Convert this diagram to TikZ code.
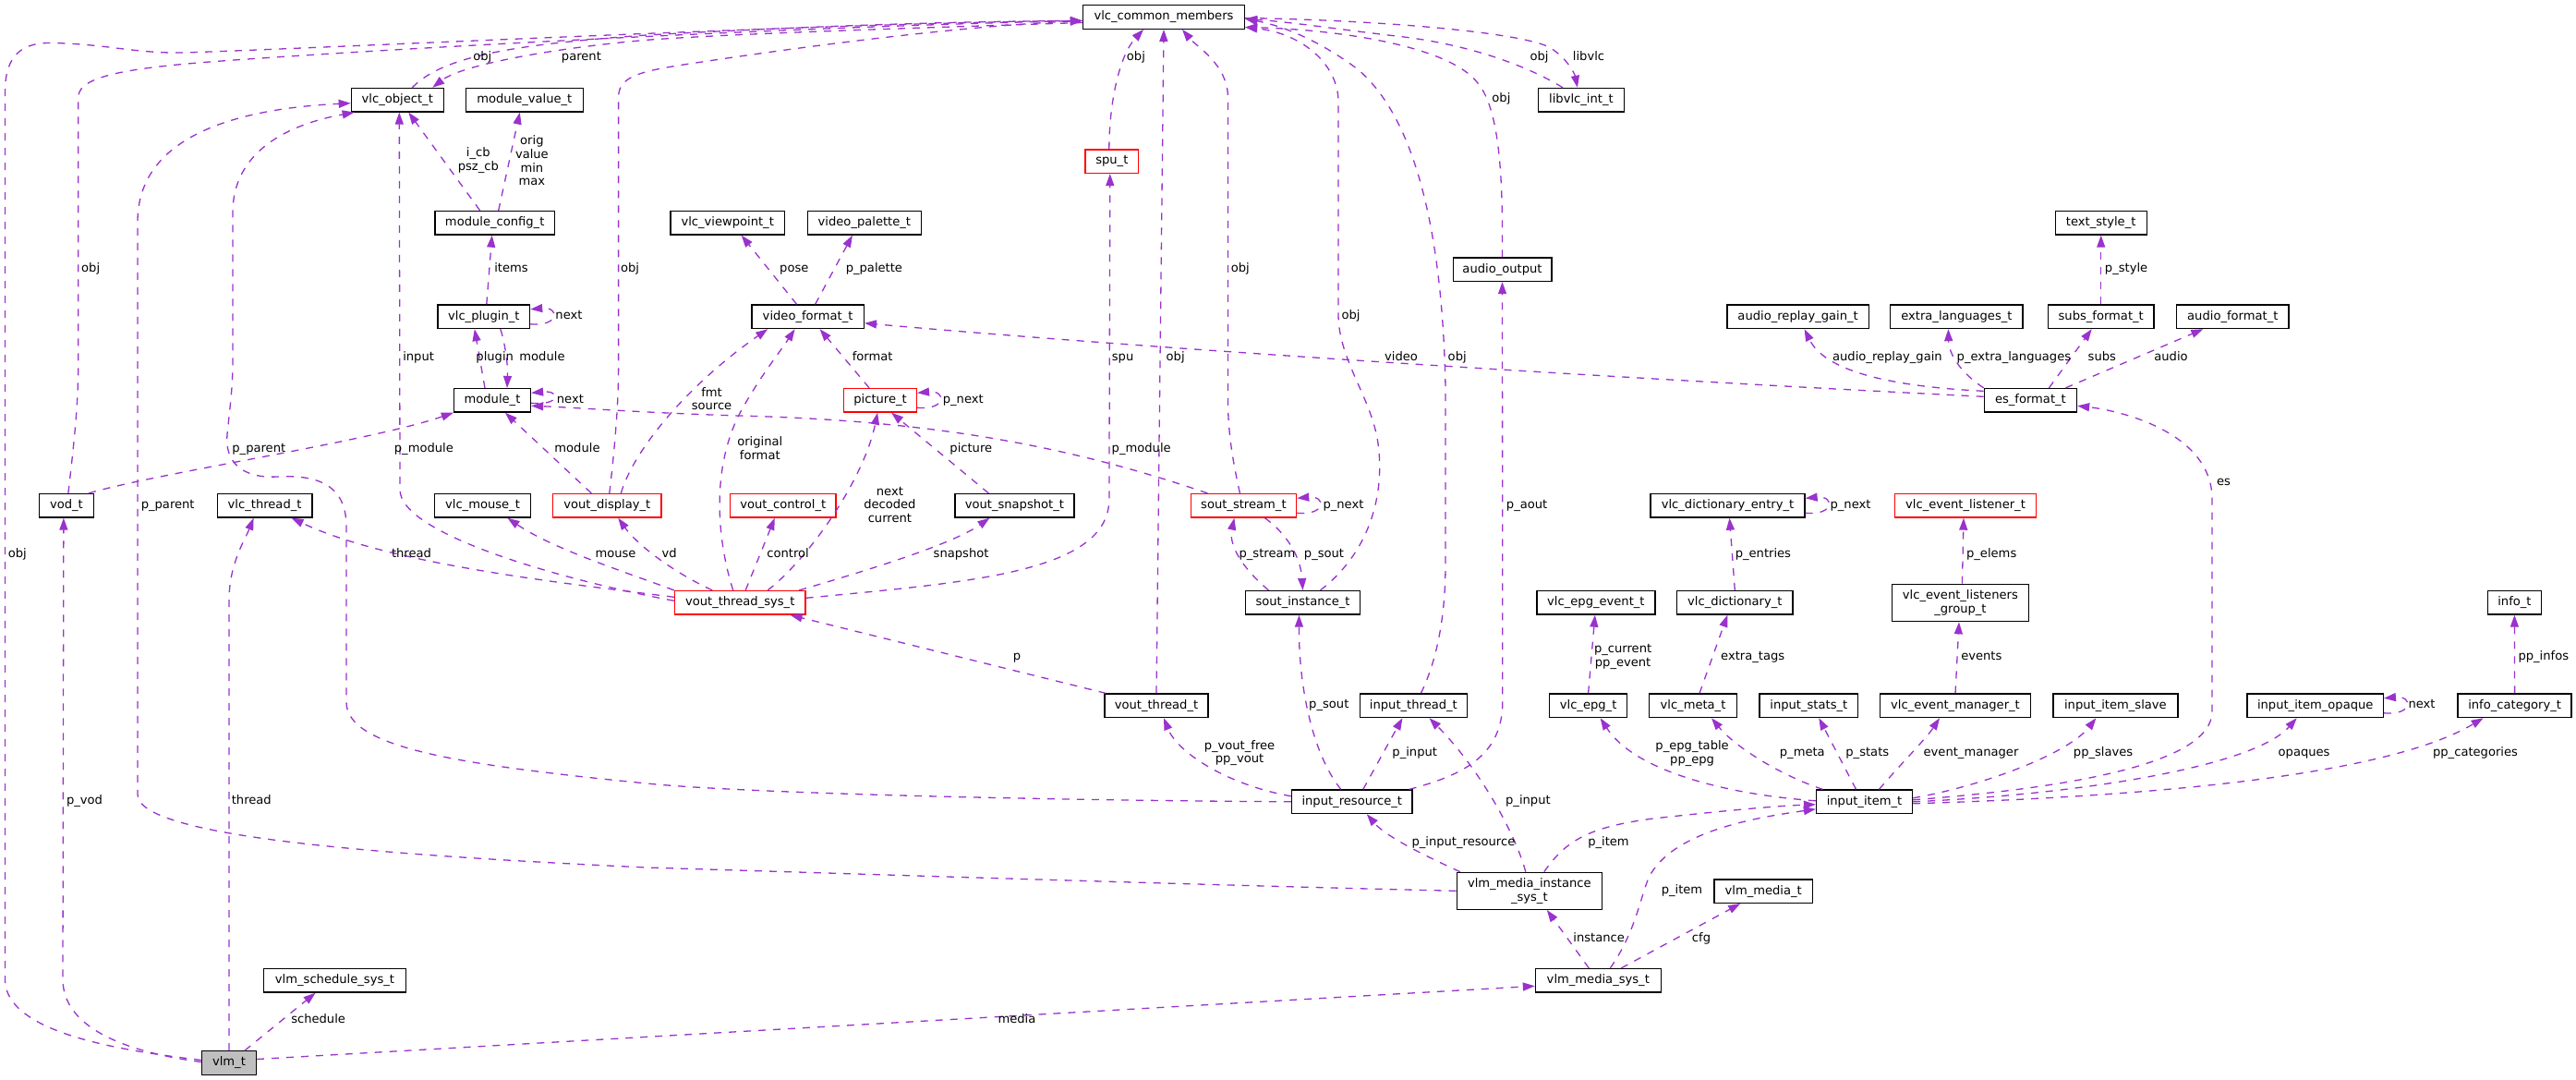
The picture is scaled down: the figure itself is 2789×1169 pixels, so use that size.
\documentclass[tikz,border=0pt]{standalone}
\usepackage{fontspec}
\setmainfont{DejaVu Sans}
\usetikzlibrary{arrows.meta}
\definecolor{edgec}{HTML}{9A32CD}
\definecolor{greyfill}{HTML}{BFBFBF}
\newcommand\dvf{\fontsize{13.1pt}{14.6pt}\selectfont}
\begin{document}
\begin{tikzpicture}[x=1pt,y=-1pt,
  box/.style={draw=black, line width=1.3pt, fill=white, minimum height=25.5pt, inner sep=0pt, font=\dvf, align=center},
  rbox/.style={box, draw=red},
  lbl/.style={font=\dvf, inner sep=0pt, text height=9.6pt, text depth=2.6pt},
  mlbl/.style={font=\dvf, inner sep=0pt, align=center},
  e/.style={draw=edgec, line width=1.3pt, dash pattern=on 8pt off 8pt, -{Triangle[length=13pt,width=9pt]}}
]
\fill[white] (0,0) rectangle (2789,1169);
\useasboundingbox (0,0) rectangle (2789,1169);

% ---------- nodes ----------
\node[box, minimum width=175pt] (vcm) at (1260,18.5) {vlc\_common\_members};
\node[box, minimum width=100pt] (vobj) at (430.3,108.2) {vlc\_object\_t};
\node[box, minimum width=127pt] (mvt) at (567.8,108.2) {module\_value\_t};
\node[box, minimum width=93pt] (libvlc) at (1711.9,108.2) {libvlc\_int\_t};
\node[rbox, minimum width=57.6pt] (spu) at (1203.8,174.7) {spu\_t};
\node[box, minimum width=129.5pt] (mct) at (535.7,241.3) {module\_config\_t};
\node[box, minimum width=123.6pt] (vvp) at (787.7,241.3) {vlc\_viewpoint\_t};
\node[box, minimum width=122.8pt] (vpal) at (935.9,241.3) {video\_palette\_t};
\node[box, minimum width=99pt] (tst) at (2274.7,241.3) {text\_style\_t};
\node[box, minimum width=106.7pt] (aout) at (1626.5,291.8) {audio\_output};
\node[box, minimum width=99.6pt] (plug) at (523.8,342.8) {vlc\_plugin\_t};
\node[box, minimum width=121.5pt] (vfmt) at (874.6,342.8) {video\_format\_t};
\node[box, minimum width=153.2pt] (argt) at (1946.6,342.8) {audio\_replay\_gain\_t};
\node[box, minimum width=143.2pt] (elt) at (2118.4,342.8) {extra\_languages\_t};
\node[box, minimum width=114.7pt] (sft) at (2274.7,342.8) {subs\_format\_t};
\node[box, minimum width=121.3pt] (aft) at (2417.3,342.8) {audio\_format\_t};
\node[box, minimum width=83pt] (modt) at (533,433.3) {module\_t};
\node[rbox, minimum width=78.6pt] (pict) at (953.1,433.3) {picture\_t};
\node[box, minimum width=100.2pt] (esf) at (2198.4,433.3) {es\_format\_t};
\node[box, minimum width=58.9pt] (vod) at (71.9,547.3) {vod\_t};
\node[box, minimum width=102.6pt] (vth) at (286.6,547.3) {vlc\_thread\_t};
\node[box, minimum width=104pt] (vmouse) at (522.5,547.3) {vlc\_mouse\_t};
\node[rbox, minimum width=117.4pt] (vdisp) at (657.3,547.3) {vout\_display\_t};
\node[rbox, minimum width=114.3pt] (vctl) at (847.8,547.3) {vout\_control\_t};
\node[box, minimum width=129pt] (vsnap) at (1098.4,547.3) {vout\_snapshot\_t};
\node[rbox, minimum width=114.4pt] (sst) at (1346.4,547.3) {sout\_stream\_t};
\node[box, minimum width=167pt] (vde) at (1870.5,547.3) {vlc\_dictionary\_entry\_t};
\node[rbox, minimum width=153.3pt] (vel) at (2128,547.3) {vlc\_event\_listener\_t};
\node[rbox, minimum width=141.5pt] (vts) at (801.2,652.3) {vout\_thread\_sys\_t};
\node[box, minimum width=123.7pt] (sinst) at (1410.5,652.3) {sout\_instance\_t};
\node[box, minimum width=128.1pt] (vee) at (1727.9,652.3) {vlc\_epg\_event\_t};
\node[box, minimum width=125.4pt] (vdict) at (1878.3,652.3) {vlc\_dictionary\_t};
\node[box, minimum width=147.6pt, minimum height=40.4pt] (velg) at (2122.4,652.5) {vlc\_event\_listeners\\\_group\_t};
\node[box, minimum width=58.4pt] (infot) at (2722.4,652.3) {info\_t};
\node[box, minimum width=112pt] (vthr) at (1252,763.8) {vout\_thread\_t};
\node[box, minimum width=116.1pt] (ithr) at (1530.4,763.8) {input\_thread\_t};
\node[box, minimum width=83.9pt] (epg) at (1719.6,763.8) {vlc\_epg\_t};
\node[box, minimum width=94.6pt] (meta) at (1833,763.8) {vlc\_meta\_t};
\node[box, minimum width=106.7pt] (istat) at (1958.3,763.8) {input\_stats\_t};
\node[box, minimum width=162.7pt] (vem) at (2117,763.8) {vlc\_event\_manager\_t};
\node[box, minimum width=134.9pt] (islave) at (2290.4,763.8) {input\_item\_slave};
\node[box, minimum width=147.2pt] (iopq) at (2506.7,763.8) {input\_item\_opaque};
\node[box, minimum width=123pt] (icat) at (2722.6,763.8) {info\_category\_t};
\node[box, minimum width=130.4pt] (ires) at (1463.8,867.8) {input\_resource\_t};
\node[box, minimum width=104pt] (iitem) at (2018.5,867.8) {input\_item\_t};
\node[box, minimum width=157.2pt, minimum height=40pt] (vmis) at (1655.8,964.3) {vlm\_media\_instance\\\_sys\_t};
\node[box, minimum width=106.7pt] (vmt) at (1909.2,964.7) {vlm\_media\_t};
\node[box, minimum width=153.6pt] (vsched) at (362.5,1061.3) {vlm\_schedule\_sys\_t};
\node[box, minimum width=135.7pt] (vms) at (1730.3,1061.3) {vlm\_media\_sys\_t};
\node[box, fill=greyfill, minimum width=58.5pt] (vlm) at (248,1150.5) {vlm\_t};

% ---------- edges ----------
% into vlc_common_members (west)
\draw[e] ([xshift=16pt]vobj.north) .. controls (480,60) and (560,48) .. (700,38) .. controls (900,27) and (1050,23) .. ([yshift=-4pt]vcm.west);
\draw[e] ([yshift=-6pt]vcm.west) .. controls (1000,30) and (800,36) .. (700,43.3) .. controls (600,52) and (500,70) .. ([xshift=38pt]vobj.north);
\draw[e] ([yshift=3pt]vlm.west) .. controls (140,1138) and (5.4,1120) .. (5.4,1060) -- (5.4,100) .. controls (5.4,45) and (40,45) .. (70,47) .. controls (120,49) and (150,58) .. (200,57) .. controls (400,50) and (900,25) .. ([yshift=-4pt]vcm.west);
\draw[e] ([xshift=2pt]vod.north) .. controls (80,480) and (84.8,440) .. (84.8,390) -- (84.8,105) .. controls (84.8,80) and (150,72) .. (268,64) .. controls (500,48) and (900,28) .. ([yshift=-4pt]vcm.west);
\draw[e] ([xshift=2.5pt]vdisp.north) .. controls (665,490) and (669.6,440) .. (669.6,400) -- (669.6,105) .. controls (669.6,80) and (700,76) .. (760,67) .. controls (900,46) and (1050,28) .. ([yshift=-4pt]vcm.west);
% into vlc_common_members (east)
\draw[e] ([xshift=-20pt]libvlc.north) .. controls (1660,75) and (1600,50) .. (1520,40) .. controls (1450,32) and (1400,24) .. ([yshift=-2pt]vcm.east);
\draw[e] ([yshift=-1pt]vcm.east) .. controls (1500,22) and (1640,35) .. (1675,50) .. controls (1695,60) and (1705,80) .. ([xshift=-4pt]libvlc.north);
\draw[e] (aout.north) .. controls (1627,200) and (1625,120) .. (1600,90) .. controls (1570,50) and (1450,32) .. ([yshift=-11pt]vcm.east);
\draw[e] ([xshift=8pt]ithr.north) .. controls (1558,710) and (1565,660) .. (1565,610) -- (1565,420) .. controls (1562,260) and (1535,130) .. (1470,75) .. controls (1430,45) and (1390,28) .. ([yshift=-2pt]vcm.east);
\draw[e] ([xshift=19pt]sinst.north) .. controls (1480,600) and (1500,540) .. (1492,480) .. controls (1485,430) and (1449,390) .. (1449,340) -- (1449,110) .. controls (1449,70) and (1410,36) .. ([yshift=-11pt]vcm.east);
% into vlc_common_members (south)
\draw[e] (vthr.north) -- (vcm.south);
\draw[e] ([xshift=-4pt]sst.north) .. controls (1335,500) and (1329.4,470) .. (1329.4,430) -- (1329.4,105) .. controls (1329.4,70) and (1295,50) .. ([xshift=20pt]vcm.south);
\draw[e] ([xshift=-3pt]spu.north) .. controls (1201,110) and (1212,60) .. ([xshift=-22pt]vcm.south);

% module cluster
\draw[e] ([xshift=-16pt]mct.north) -- ([xshift=12pt]vobj.south);
\draw[e] ([xshift=4pt]mct.north) -- ([xshift=-5pt]mvt.south);
\draw[e] ([xshift=3pt]plug.north) -- ([xshift=-3pt]mct.south);
\draw[e] ([yshift=-8pt]plug.east) .. controls +(32pt,-3pt) and +(32pt,3pt) .. ([yshift=8pt]plug.east);
\draw[e] ([xshift=-8pt]modt.north) -- ([xshift=-10pt]plug.south);
\draw[e] ([xshift=18pt]plug.south) .. controls (547,372) and (550,395) .. ([xshift=16pt]modt.north);
\draw[e] ([yshift=-3pt]modt.east) .. controls +(32pt,-3pt) and +(32pt,3pt) .. ([yshift=8pt]modt.east);
\draw[e] ([xshift=-6pt]vod.north east) .. controls (170,512) and (400,478) .. (modt.south west);
\draw[e] ([xshift=-39pt]sst.north) .. controls (1150,480) and (1000,455) .. (800,450) .. controls (700,447) and (620,441) .. ([yshift=-6pt]modt.east);
\draw[e] ([xshift=-17pt]vdisp.north) -- ([xshift=14pt]modt.south);

% video format cluster
\draw[e] ([xshift=15pt]vdisp.north) .. controls (685,490) and (740,420) .. ([xshift=18pt]vfmt.south west);
\draw[e] ([xshift=-7.5pt]vts.north) .. controls (775,580) and (770,500) .. (805,440) .. controls (825,405) and (845,380) .. ([xshift=-14pt]vfmt.south);
\draw[e] ([xshift=-12pt]pict.north) -- ([xshift=13pt]vfmt.south);
\draw[e] ([yshift=-8pt]pict.east) .. controls +(32pt,-3pt) and +(32pt,3pt) .. ([yshift=8pt]pict.east);
\draw[e] ([xshift=-28pt]vsnap.north) -- ([xshift=12pt]pict.south);
\draw[e] ([xshift=30pt]vts.north) .. controls (875,605) and (935,520) .. ([xshift=-3pt]pict.south);
\draw[e] ([xshift=6pt]vts.north) -- ([xshift=-9pt]vctl.south);
\draw[e] ([xshift=64pt]vts.north) .. controls (930,620) and (1030,590) .. ([xshift=-27pt]vsnap.south);
\draw[e] ([xshift=-30pt]vts.north) .. controls (730,620) and (690,590) .. ([xshift=12pt]vdisp.south);
\draw[e] (vts.north west) .. controls (680,620) and (600,595) .. ([xshift=27pt]vmouse.south);
\draw[e] ([yshift=6pt]vts.west) .. controls (600,630) and (420,610) .. ([xshift=-23pt]vth.south east);
\draw[e] ([yshift=2pt]vts.west) .. controls (620,630) and (433,580) .. (433,530) -- ([xshift=2pt]vobj.south);
\draw[e] ([yshift=5pt]vts.east) .. controls (1050,630) and (1200.9,620) .. (1200.9,540) -- ([xshift=-2pt]spu.south);
\draw[e] ([xshift=2pt]vthr.north west) -- ([xshift=-17pt]vts.south east);
\draw[e] ([xshift=-12pt]vfmt.north) -- ([xshift=15pt]vvp.south);
\draw[e] ([xshift=8pt]vfmt.north) -- ([xshift=-13pt]vpal.south);

% sout
\draw[e] ([yshift=-8pt]sst.east) .. controls +(32pt,-3pt) and +(32pt,3pt) .. ([yshift=8pt]sst.east);
\draw[e] ([xshift=23pt]sst.south) .. controls (1390,575) and (1408,600) .. (sinst.north);
\draw[e] ([xshift=-37pt]sinst.north) .. controls (1345,615) and (1330,590) .. ([xshift=-10pt]sst.south);

% input resource
\draw[e] ([xshift=-12pt]ires.north) .. controls (1420,815) and (1406,740) .. ([xshift=-4pt]sinst.south);
\draw[e] ([xshift=12pt]ires.north) -- ([xshift=-12pt]ithr.south);
\draw[e] ([xshift=-4pt]ires.north east) .. controls (1580,840) and (1626.8,820) .. (1626.8,760) -- (aout.south);
\draw[e] ([yshift=6pt]ires.west) .. controls (1330,850) and (1275,815) .. ([xshift=8pt]vthr.south);
\draw[e] (ires.west) .. controls (1100,866) and (800,858) .. (700,848) .. controls (500,828) and (375,810) .. (375,760) -- (375,570) .. controls (375,522) and (340,514) .. (300,516) .. controls (262,518) and (243,500) .. (246,470) .. controls (249,440) and (252,420) .. (252,390) -- (252,230) .. controls (252,165) and (310,135) .. ([xshift=4pt]vobj.south west);

% vlm media instance
\draw[e] (vmis.west) .. controls (1300,958) and (900,945) .. (700,939) .. controls (400,925) and (149,905) .. (149,860) -- (149,240) .. controls (149,150) and (250,118) .. ([yshift=-3.5pt]vobj.west);
\draw[e] ([xshift=-4pt]vmis.north) .. controls (1640,900) and (1600,830) .. ([xshift=17pt]ithr.south);
\draw[e] ([xshift=-75pt]vmis.north) .. controls (1540,925) and (1500,905) .. ([xshift=16pt]ires.south);
\draw[e] ([xshift=16pt]vmis.north) .. controls (1695,910) and (1720,895) .. (1790,886) .. controls (1880,876) and (1930,872) .. ([yshift=-3pt]iitem.west);

% vlm_t
\draw[e] ([yshift=1pt]vlm.west) .. controls (130,1138) and (68,1110) .. (68,1060) -- ([xshift=-3pt]vod.south);
\draw[e] (vlm.north) -- (248,650) .. controls (248,610) and (265,585) .. ([xshift=-12pt]vth.south);
\draw[e] ([xshift=17pt]vlm.north) -- ([xshift=-21pt]vsched.south);
\draw[e] ([yshift=4pt]vlm.east) -- ([yshift=-6pt]vms.west);

% vlm media sys
\draw[e] ([xshift=-10pt]vms.north) -- ([xshift=19pt]vmis.south);
\draw[e] ([xshift=25pt]vms.north) -- ([xshift=-25pt]vmt.south);
\draw[e] ([xshift=13pt]vms.north) .. controls (1770,1010) and (1775,975) .. (1785,950) .. controls (1810,900) and (1900,885) .. ([yshift=-8pt]iitem.west);

% input item
\draw[e] ([yshift=1pt]iitem.west) .. controls (1870,860) and (1770,835) .. ([xshift=13pt]epg.south);
\draw[e] ([xshift=-45pt]iitem.north) .. controls (1930,840) and (1880,810) .. ([xshift=20pt]meta.south);
\draw[e] ([xshift=-9pt]iitem.north) -- ([xshift=11pt]istat.south);
\draw[e] ([xshift=16pt]iitem.north) .. controls (2055,830) and (2085,800) .. ([xshift=-17pt]vem.south);
\draw[e] ([yshift=4pt]iitem.east) .. controls (2150,850) and (2240,815) .. ([xshift=-21pt]islave.south);
\draw[e] ([yshift=2pt]iitem.east) .. controls (2250,852) and (2395,825) .. (2395,770) -- (2395,540) .. controls (2395,470) and (2300,445) .. ([yshift=-6pt]esf.east);
\draw[e] (iitem.east) .. controls (2250,860) and (2440,830) .. ([xshift=-20pt]iopq.south);
\draw[e] ([yshift=-2pt]iitem.east) .. controls (2400,860) and (2600,830) .. ([xshift=-34pt]icat.south);
\draw[e] ([yshift=-8pt]iopq.east) .. controls +(32pt,-3pt) and +(32pt,3pt) .. ([yshift=8pt]iopq.east);
\draw[e] (icat.north) -- (infot.south);
\draw[e] (vem.north) -- ([xshift=-1.4pt]velg.south);
\draw[e] ([xshift=2pt]velg.north) -- ([xshift=-2pt]vel.south);
\draw[e] ([yshift=-8pt]vde.east) .. controls +(32pt,-3pt) and +(32pt,3pt) .. ([yshift=8pt]vde.east);
\draw[e] (vdict.north) -- ([xshift=2pt]vde.south);
\draw[e] ([xshift=7pt]meta.north) -- ([xshift=-8pt]vdict.south);
\draw[e] (epg.north) -- ([xshift=-1pt]vee.south);

% es_format
\draw[e] ([yshift=10pt]esf.west) .. controls (2040,418) and (1975,400) .. ([xshift=7pt]argt.south);
\draw[e] (esf.north west) .. controls (2125,405) and (2110,385) .. ([xshift=-9pt]elt.south);
\draw[e] ([xshift=20pt]esf.north) -- ([xshift=-10pt]sft.south);
\draw[e] ([xshift=38pt]esf.north) -- ([xshift=-32pt]aft.south);
\draw[e] ([yshift=4pt]esf.west) .. controls (1800,412) and (1300,382) .. ([yshift=-7pt]vfmt.east);
\draw[e] (sft.north) -- (tst.south);

% ---------- labels ----------
\node[lbl] (l1) at (522.3,62.3) {obj};
\node[lbl] (l2) at (629.4,62.3) {parent};
\node[lbl] (l3) at (1229.9,62.3) {obj};
\node[lbl] (l4) at (1666.5,62.3) {obj};
\node[lbl] (l5) at (1720,62.3) {libvlc};
\node[lbl] (l6) at (1625.4,106.7) {obj};
\node[mlbl] (l7) at (517.8,173.8) {i\_cb\\psz\_cb};
\node[mlbl] (l8) at (575.9,173.9) {orig\\value\\min\\max};
\node[lbl] (l9) at (553.5,290.7) {items};
\node[lbl] (l10) at (98.2,290.7) {obj};
\node[lbl] (l11) at (682.1,290.7) {obj};
\node[lbl] (l12) at (859.8,290.7) {pose};
\node[lbl] (l13) at (946.4,290.7) {p\_palette};
\node[lbl] (l14) at (1342.8,290.7) {obj};
\node[lbl] (l15) at (1462.5,341.7) {obj};
\node[lbl] (l16) at (2302.1,290.7) {p\_style};
\node[lbl] (l17) at (616,341.7) {next};
\node[lbl] (l18) at (453.1,386.7) {input};
\node[lbl] (l19) at (535.7,386.7) {plugin};
\node[lbl] (l20) at (587,386.7) {module};
\node[lbl] (l21) at (944.6,386.7) {format};
\node[lbl] (l22) at (1215.6,386.7) {spu};
\node[lbl] (l23) at (1272.7,386.7) {obj};
\node[lbl] (l24) at (1517,386.7) {video};
\node[lbl] (l25) at (1577.7,386.7) {obj};
\node[lbl] (l26) at (2043.4,386.7) {audio\_replay\_gain};
\node[lbl] (l27) at (2180.4,386.7) {p\_extra\_languages};
\node[lbl] (l28) at (2275.8,386.7) {subs};
\node[lbl] (l29) at (2350.5,386.7) {audio};
\node[lbl] (l30) at (617.4,432.7) {next};
\node[mlbl] (l31) at (770.5,431.7) {fmt\\source};
\node[lbl] (l32) at (1042.8,432.7) {p\_next};
\node[lbl] (l33) at (280.3,485.7) {p\_parent};
\node[lbl] (l34) at (458.9,485.7) {p\_module};
\node[lbl] (l35) at (625,485.7) {module};
\node[mlbl] (l36) at (822.8,485.2) {original\\format};
\node[lbl] (l37) at (1051.3,485.7) {picture};
\node[lbl] (l38) at (1235.7,485.7) {p\_module};
\node[lbl] (l39) at (2407.6,521.7) {es};
\node[mlbl] (l40) at (963.4,546.1) {next\\decoded\\current};
\node[lbl] (l41) at (181.7,546.7) {p\_parent};
\node[lbl] (l42) at (1454.5,546.7) {p\_next};
\node[lbl] (l43) at (1653.1,546.7) {p\_aout};
\node[lbl] (l44) at (2003.5,546.7) {p\_next};
\node[lbl] (l45) at (18.8,600) {obj};
\node[lbl] (l46) at (445.5,600) {thread};
\node[lbl] (l47) at (666.5,600) {mouse};
\node[lbl] (l48) at (724.6,600) {vd};
\node[lbl] (l49) at (853.1,600) {control};
\node[lbl] (l50) at (1040.6,600) {snapshot};
\node[lbl] (l51) at (1372,600) {p\_stream};
\node[lbl] (l52) at (1433.5,600) {p\_sout};
\node[lbl] (l53) at (1908.9,600) {p\_entries};
\node[lbl] (l54) at (2156.2,600) {p\_elems};
\node[lbl] (l55) at (1100.9,711) {p};
\node[mlbl] (l56) at (1757.1,711.2) {p\_current\\pp\_event};
\node[lbl] (l57) at (1897.7,711) {extra\_tags};
\node[lbl] (l58) at (2145.3,711) {events};
\node[lbl] (l59) at (2753.8,711) {pp\_infos};
\node[lbl] (l60) at (1438.8,762.7) {p\_sout};
\node[lbl] (l61) at (2622,762.7) {next};
\node[mlbl] (l62) at (1342,815.2) {p\_vout\_free\\pp\_vout};
\node[lbl] (l63) at (1531.7,815) {p\_input};
\node[mlbl] (l64) at (1832.1,815.5) {p\_epg\_table\\pp\_epg};
\node[lbl] (l65) at (1951.3,815) {p\_meta};
\node[lbl] (l66) at (2021.8,815) {p\_stats};
\node[lbl] (l67) at (2134,815) {event\_manager};
\node[lbl] (l68) at (2277.1,815) {pp\_slaves};
\node[lbl] (l69) at (2494.6,815) {opaques};
\node[lbl] (l70) at (2680,815) {pp\_categories};
\node[lbl] (l71) at (91.5,866.7) {p\_vod};
\node[lbl] (l72) at (272.3,866.7) {thread};
\node[lbl] (l73) at (1654.4,867.3) {p\_input};
\node[lbl] (l74) at (1584.4,911.7) {p\_input\_resource};
\node[lbl] (l75) at (1741.5,911.7) {p\_item};
\node[lbl] (l76) at (1821,963.7) {p\_item};
\node[lbl] (l77) at (1731.2,1015.7) {instance};
\node[lbl] (l78) at (1842,1015.7) {cfg};
\node[lbl] (l79) at (344.6,1104.3) {schedule};
\node[lbl] (l80) at (1100.9,1104.3) {media};
\end{tikzpicture}
\end{document}
